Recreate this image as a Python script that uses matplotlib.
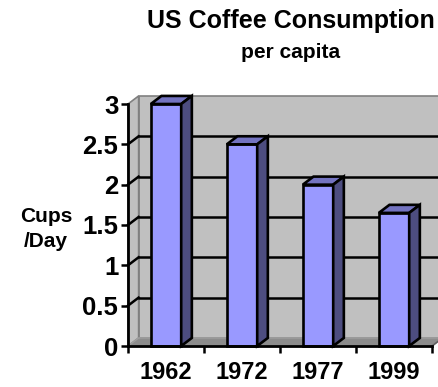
import matplotlib
matplotlib.use("Agg")
import matplotlib.pyplot as plt
from matplotlib.patches import Polygon

years = ["1962", "1972", "1977", "1999"]
cups_per_day = [3.0, 2.5, 2.0, 1.65]
y_ticks = [0, 0.5, 1, 1.5, 2, 2.5, 3]
y_tick_labels = ["0", "0.5", "1", "1.5", "2", "2.5", "3"]

FRONT = "#9999FF"
TOP = "#7373C0"
SIDE = "#4D4D80"
WALL = "#C0C0C0"
FLOOR = "#8C8C8C"

plt.rcParams["font.family"] = ["Liberation Sans", "DejaVu Sans"]
plt.rcParams["font.weight"] = "bold"

fig = plt.figure(figsize=(4.39, 3.87), dpi=100)
ax = fig.add_axes([128 / 439, 41 / 387, 304 / 439, 242 / 387])
ax.set_facecolor("none")
n = len(years)
ymax = 3.0
ax.set_xlim(0, n)
ax.set_ylim(0, ymax)

# oblique depth of the walls and columns, in data units
dx, dy = 0.14, 0.1

kw = dict(clip_on=False, transform=ax.transData)
# back wall, left wall and floor
ax.add_patch(Polygon([(dx, dy), (n + dx, dy), (n + dx, ymax + dy), (dx, ymax + dy)],
                     closed=True, fc=WALL, ec="#808080", lw=1.2, zorder=0, **kw))
ax.add_patch(Polygon([(0, 0), (dx, dy), (dx, ymax + dy), (0, ymax)],
                     closed=True, fc=WALL, ec="#808080", lw=1.2, zorder=0, **kw))
ax.add_patch(Polygon([(0, 0), (n, 0), (n + dx, dy), (dx, dy)],
                     closed=True, fc=FLOOR, ec="#A0A0A0", lw=1.0, zorder=0.5, **kw))
for t in y_ticks[1:-1]:
    ax.plot([dx, n + dx], [t + dy, t + dy], color="black", lw=1.8, zorder=1, clip_on=False)
    ax.plot([0, dx], [t, t + dy], color="black", lw=1.8, zorder=1, clip_on=False)
ax.plot([n, n + dx], [0, dy], color="#606060", lw=1.2, zorder=1, clip_on=False)

# columns: front face from ax.bar, then top and side faces
xs = [i + 0.5 for i in range(n)]
w = 0.4
ax.bar(xs, cups_per_day, width=w, color=FRONT, edgecolor="black", lw=1.9, zorder=3, clip_on=False)
for x, v in zip(xs, cups_per_day):
    l, r = x - w / 2, x + w / 2
    ax.add_patch(Polygon([(l, v), (r, v), (r + dx, v + dy), (l + dx, v + dy)],
                         closed=True, fc=TOP, ec="black", lw=1.9, zorder=3, **kw))
    ax.add_patch(Polygon([(r, 0), (r + dx, dy), (r + dx, v + dy), (r, v)],
                         closed=True, fc=SIDE, ec="black", lw=1.9, zorder=3, **kw))

for s in ("top", "right"):
    ax.spines[s].set_visible(False)
for s in ("left", "bottom"):
    ax.spines[s].set_linewidth(2.0)
    ax.spines[s].set_zorder(4)

ax.set_yticks(y_ticks)
ax.set_yticklabels(y_tick_labels)
ax.set_xticks(range(n + 1))
ax.set_xticklabels([])
ax.set_xticks(xs, minor=True)
ax.set_xticklabels(years, minor=True)
ax.tick_params(axis="both", which="major", direction="out", length=5, width=1.8, labelsize=18.5)
ax.tick_params(axis="x", which="minor", length=0, labelsize=17, pad=11)
ax.tick_params(axis="y", pad=2)

fig.text(291 / 439, 1 - 21 / 387, "US Coffee Consumption", ha="center", va="center",
         fontsize=18, fontweight="bold")
fig.text(291 / 439, 1 - 52 / 387, "per capita", ha="center", va="center",
         fontsize=15, fontweight="bold")
fig.text(46 / 439, 1 - 229 / 387, "Cups\n/Day", ha="center", va="center",
         fontsize=15, fontweight="bold", linespacing=1.45)

fig.savefig("out.png", dpi=100)
